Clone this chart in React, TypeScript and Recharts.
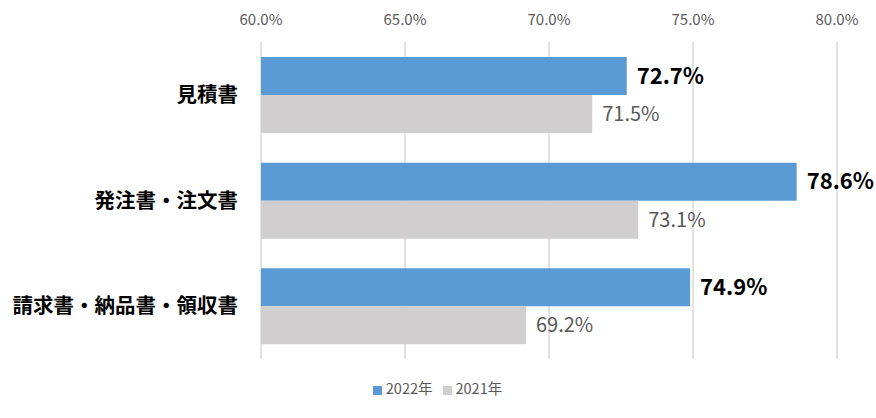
import { BarChart, Bar, XAxis, YAxis, CartesianGrid, Legend, LabelList } from 'recharts';

const categories = ['見積書', '発注書・注文書', '請求書・納品書・領収書'];
const values2022 = [72.7, 78.6, 74.9];
const values2021 = [71.5, 73.1, 69.2];
const xTicks = [60, 65, 70, 75, 80];
const legendOrder = ['2022年', '2021年'];

const data = categories.map((name, i) => ({
  name,
  y2022: values2022[i],
  y2021: values2021[i],
}));

const FONT = '"Noto Sans CJK JP", "Noto Sans", sans-serif';
const fmt = (v: number) => `${v.toFixed(1)}%`;

export default function App() {
  return (
    <div style={{ position: 'absolute', left: 0, top: 0, fontFamily: FONT }}>
      <BarChart
        width={876}
        height={418}
        data={data}
        layout="vertical"
        barGap={0}
        barSize={38}
        margin={{ top: 0, right: 39, bottom: 38, left: 0 }}
      >
        <CartesianGrid horizontal={false} stroke="#d9d9d9" strokeWidth={1.5} />
        <XAxis
          type="number"
          orientation="top"
          domain={[60, 80]}
          ticks={xTicks}
          tickFormatter={fmt}
          axisLine={false}
          tickLine={false}
          tickSize={0}
          tickMargin={17}
          height={42}
          tick={{ fill: '#595959', fontSize: 15, fontFamily: FONT }}
        />
        <YAxis
          type="category"
          dataKey="name"
          width={261}
          axisLine={false}
          tickLine={false}
          tickSize={0}
          tickMargin={23}
          tick={{ fill: '#000', fontSize: 20.5, fontWeight: 700, fontFamily: FONT }}
        />
        <Legend
          verticalAlign="bottom"
          align="center"
          iconType="square"
          iconSize={9}
          itemSorter={(item: { value?: string }) => legendOrder.indexOf(item.value ?? '')}
          wrapperStyle={{ fontSize: 14.5, fontFamily: FONT, bottom: 20, left: 24 }}
          formatter={(value: string) => <span style={{ color: '#595959' }}>{value}</span>}
        />
        <Bar dataKey="y2022" name="2022年" fill="#5B9BD5" isAnimationActive={false}>
          <LabelList
            dataKey="y2022"
            position="right"
            offset={10}
            formatter={(v: number) => fmt(v)}
            style={{ fill: '#000', fontSize: 22, fontWeight: 700, fontFamily: FONT }}
          />
        </Bar>
        <Bar dataKey="y2021" name="2021年" fill="#D0CECE" isAnimationActive={false}>
          <LabelList
            dataKey="y2021"
            position="right"
            offset={10}
            formatter={(v: number) => fmt(v)}
            style={{ fill: '#595959', fontSize: 20, fontFamily: FONT }}
          />
        </Bar>
      </BarChart>
    </div>
  );
}
